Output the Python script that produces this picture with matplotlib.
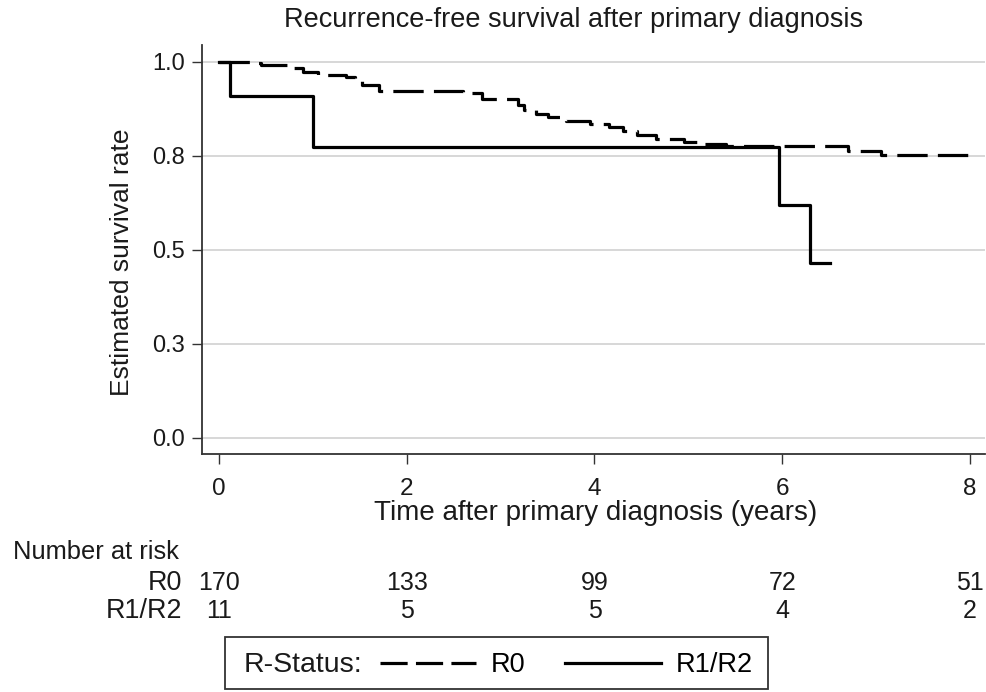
import matplotlib
matplotlib.use("Agg")
import matplotlib.pyplot as plt
from matplotlib.lines import Line2D
from matplotlib.patches import Rectangle
from matplotlib.transforms import blended_transform_factory

plt.rcParams['font.family'] = ['Liberation Sans', 'DejaVu Sans']

# Kaplan-Meier step points
r0_time = [0, 0.33, 0.45, 0.80, 0.90, 1.05, 1.35, 1.45, 1.52, 1.70, 2.60, 2.80,
           3.18, 3.25, 3.38, 3.50, 3.70, 3.95, 4.15, 4.30, 4.45, 4.65, 4.95,
           5.15, 5.40, 6.70, 7.05, 8.02]
r0_surv = [1.0, 0.996, 0.990, 0.984, 0.971, 0.965, 0.958, 0.951, 0.938, 0.923,
           0.916, 0.900, 0.885, 0.870, 0.860, 0.852, 0.843, 0.835, 0.826, 0.815,
           0.805, 0.795, 0.786, 0.780, 0.776, 0.762, 0.752, 0.752]
r12_time = [0, 0.12, 1.0, 5.97, 6.30, 6.51]
r12_surv = [1.0, 0.909, 0.773, 0.618, 0.464, 0.464]

yticks = [0, 0.25, 0.5, 0.75, 1.0]
ytick_labels = ['0.0', '0.3', '0.5', '0.8', '1.0']
xticks = [0, 2, 4, 6, 8]

groups = ['R0', 'R1/R2']
at_risk = {'R0': [170, 133, 99, 72, 51],
           'R1/R2': [11, 5, 5, 4, 2]}

W, H = 987, 692
fig = plt.figure(figsize=(W / 100, H / 100), dpi=100)
ax = fig.add_axes([202 / W, 1 - 454 / H, 783 / W, (454 - 45) / H])

ink = '#1a1a1a'
LW = 2.3

ax.step(r0_time, r0_surv, where='post', color='black', lw=LW,
        dashes=(9.5, 3.2), solid_capstyle='butt', zorder=3)
ax.step(r12_time, r12_surv, where='post', color='black', lw=LW, zorder=4)

ax.set_xlim(-0.181, 8.16)
ax.set_ylim(-0.0426, 1.044)
ax.set_yticks(yticks)
ax.set_yticklabels(ytick_labels)
ax.set_xticks(xticks)
ax.grid(axis='y', color='#d4d4d4', lw=1.3)
ax.set_axisbelow(True)
for s in ['top', 'right']:
    ax.spines[s].set_visible(False)
for s in ['left', 'bottom']:
    ax.spines[s].set_color('#333333')
    ax.spines[s].set_linewidth(1.3)
ax.tick_params(axis='y', length=7, width=1, color='#333333', pad=5,
               labelsize=17, labelcolor=ink)
ax.tick_params(axis='x', length=7, width=1, color='#333333', pad=10,
               labelsize=17.5, labelcolor=ink)

fig.text(574 / W, 1 - 27 / H, 'Recurrence-free survival after primary diagnosis',
         ha='center', va='baseline', fontsize=19.5, color=ink)
fig.text(122 / W, 1 - 262 / H, 'Estimated survival rate', rotation=90,
         ha='center', va='center', fontsize=19, color=ink)
fig.text(596 / W, 1 - 520 / H, 'Time after primary diagnosis (years)',
         ha='center', va='baseline', fontsize=20, color=ink)

# number at risk table
tr_mix = blended_transform_factory(ax.transData, fig.transFigure)
fig.text(13 / W, 1 - 559 / H, 'Number at risk', ha='left', va='baseline',
         fontsize=18.4, color=ink)
row_y = [590, 618]
for g, py in zip(groups, row_y):
    fig.text(182 / W, 1 - py / H, g, ha='right', va='baseline', fontsize=19.4, color=ink)
    for t, n in zip(xticks, at_risk[g]):
        ax.text(t, 1 - py / H, str(n), transform=tr_mix, ha='center', va='baseline',
                fontsize=18, color=ink, clip_on=False)

# legend box
fig.patches.append(Rectangle((225 / W, 1 - 689 / H), (768 - 225) / W, (689 - 637) / H,
                             transform=fig.transFigure, fill=False,
                             edgecolor='#333333', lw=1.3))
fig.text(244 / W, 1 - 672 / H, 'R-Status:', ha='left', va='baseline',
         fontsize=20.5, color=ink)
handles = [Line2D([], [], color='black', lw=LW, dashes=(8.5, 2.6)),
           Line2D([], [], color='black', lw=LW)]
fig.legend(handles, groups, loc='center left', bbox_to_anchor=(380 / W, 1 - 665 / H),
           ncol=2, frameon=False, fontsize=19.5, handlelength=3.54, handletextpad=0.55,
           columnspacing=1.48, borderpad=0, borderaxespad=0)

fig.savefig('out.png', dpi=100)
